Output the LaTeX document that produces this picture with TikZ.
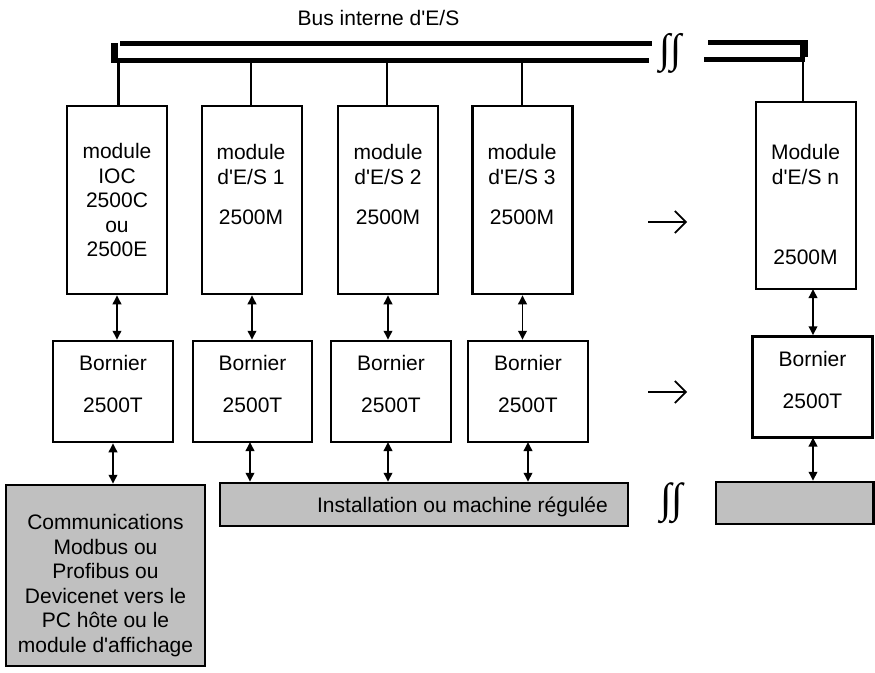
\documentclass[tikz,border=0pt]{standalone}
\usepackage{fontspec}
\setmainfont{Liberation Sans}
\newfontfamily\intfont{Liberation Serif}
\usepackage{graphicx}
\usetikzlibrary{arrows.meta}
\definecolor{boxgray}{RGB}{192,192,192}
\newcommand\aps{\textquotesingle}
\begin{document}
\begin{tikzpicture}[x=1pt,y=-1pt,
  box/.style={draw, line width=2.5pt, inner sep=0pt},
  txt/.style={font=\fontsize{21}{24.5}\selectfont, align=center, inner sep=0pt},
  gbox/.style={box, fill=boxgray},
  modbox/.style={box, minimum width=100pt, minimum height=188pt},
  borbox/.style={box, minimum width=120pt, minimum height=101pt},
  bus/.style={line width=5pt},
  link/.style={line width=2.2pt},
  dbl/.style={line width=1.9pt, {Triangle[width=8.5pt,length=9pt]}-{Triangle[width=8.5pt,length=9pt]}},
  brk/.style={inner sep=0pt},
  cont/.style={line width=1.7pt, -{Straight Barb[length=11pt,width=22pt,line width=1.7pt]}},
  ]
\useasboundingbox (0,0) rectangle (875,672);

% bus
\node[txt] (buslabel) at (378.5,18) {Bus interne d\aps E/S};
\draw[bus] (120,43.5) -- (652,43.5);
\draw[bus] (111,60) -- (649,60);
\draw[bus] (708,42.5) -- (800,42.5);
\draw[bus] (704,59.5) -- (805,59.5);
\fill (111,43) rectangle (118,58);
\fill (800,40) rectangle (808,57);
\node[brk] (brk1) at (670.5,53) {\resizebox*{!}{40pt}{\intfont ∫∫}};

\coordinate (bus1) at (118.5,62);
\coordinate (bus2) at (251,62);
\coordinate (bus3) at (387,62);
\coordinate (bus4) at (522,62);
\coordinate (busn) at (803,58);

% modules
\node[modbox, txt] (m1) at (117,200) {module\\IOC\\2500C\\ou\\2500E};
\node[modbox] (m2) at (252,200) {};
\node[modbox] (m3) at (388,200) {};
\node[modbox] (m4) at (522.5,200) {};
\node[box, minimum width=100pt, minimum height=187pt] (mn) at (806,195.5) {};

\node[txt] (t2a) at (251,164.5) {module\\d\aps E/S 1};
\node[txt] (t2b) at (251,217) {2500M};
\node[txt] (t3a) at (388,164.5) {module\\d\aps E/S 2};
\node[txt] (t3b) at (388,217) {2500M};
\node[txt] (t4a) at (522,164.5) {module\\d\aps E/S 3};
\node[txt] (t4b) at (522,217) {2500M};
\node[txt] (tna) at (805.5,164.5) {Module\\d\aps E/S n};
\node[txt] (tnb) at (805.5,257) {2500M};

\draw[link] (bus1) -- (bus1 |- m1.north);
\draw[link] (bus2) -- (bus2 |- m2.north);
\draw[link] (bus3) -- (bus3 |- m3.north);
\draw[link] (bus4) -- (bus4 |- m4.north);
\draw[link] (busn) -- (busn |- mn.north);

% continuation arrows
\coordinate (c1a) at (648,222);
\coordinate (c1b) at (687,222);
\coordinate (c2a) at (648,392);
\coordinate (c2b) at (687,392);
\draw[cont] (c1a) -- (c1b);
\draw[cont] (c2a) -- (c2b);

% borniers
\node[borbox] (b1) at (113,391.5) {};
\node[borbox, minimum width=119pt] (b2) at (252.5,391.5) {};
\node[borbox] (b3) at (391,391.5) {};
\node[borbox] (b4) at (528,391.5) {};
\node[borbox] (bn) at (812.5,387) {};

\node[txt] (tb1) at (113,384) {Bornier\\[17.5pt]2500T};
\node[txt] (tb2) at (252.5,384) {Bornier\\[17.5pt]2500T};
\node[txt] (tb3) at (391,384) {Bornier\\[17.5pt]2500T};
\node[txt] (tb4) at (528,384) {Bornier\\[17.5pt]2500T};
\node[txt] (tbn) at (812.5,379.5) {Bornier\\[17.5pt]2500T};

\draw[dbl] (m1.south) -- (m1.south |- b1.north);
\draw[dbl] (m2.south) -- (m2.south |- b2.north);
\draw[dbl] (m3.south) -- (m3.south |- b3.north);
\draw[dbl] (m4.south) -- (m4.south |- b4.north);
\coordinate (an) at (813,289);
\draw[dbl] (an) -- (an |- bn.north);

% grey boxes
\node[gbox, minimum width=199pt, minimum height=181pt] (comm) at (105.5,575.5) {};
\node[txt] (tcomm) at (105.5,585.5) {Communications\\Modbus ou\\Profibus ou\\Devicenet vers le\\PC h\^ote ou le\\module d\aps affichage};
\node[gbox, minimum width=408pt, minimum height=43pt] (inst) at (424,504.5) {};
\node[txt] (tinst) at (462.5,507) {Installation ou machine r\'egul\'ee};
\node[gbox, minimum width=157.5pt, minimum height=42pt] (instn) at (794.75,503) {};
\node[brk] (brk2) at (671.5,503.5) {\resizebox*{!}{41pt}{\intfont ∫∫}};

\draw[dbl] (b1.south) -- (b1.south |- comm.north);
\coordinate (a2) at (250,442);
\coordinate (a3) at (388,442);
\coordinate (a4) at (528,442);
\draw[dbl] (a2) -- (a2 |- inst.north);
\draw[dbl] (a3) -- (a3 |- inst.north);
\draw[dbl] (a4) -- (a4 |- inst.north);
\coordinate (an2) at (813,437.5);
\draw[dbl] (an2) -- (an2 |- instn.north);
\end{tikzpicture}
\end{document}
